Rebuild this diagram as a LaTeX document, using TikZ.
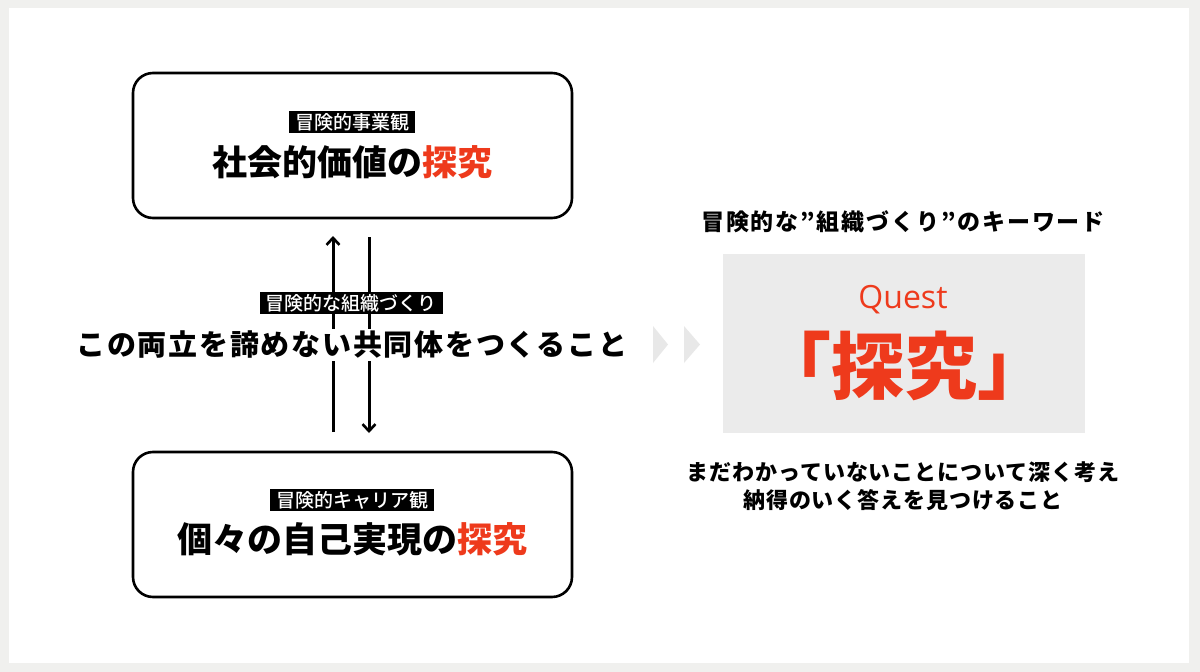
\documentclass[tikz,border=0pt]{standalone}
\usepackage{fontspec}
\newfontfamily\jp{Noto Sans CJK JP}
\newfontfamily\jpk{Noto Sans CJK JP Black}
\newfontfamily\jpm{Noto Sans CJK JP Medium}
\newfontfamily\qfont{Open Sans}
\usetikzlibrary{arrows.meta}
\definecolor{qred}{HTML}{EE3A1C}
\definecolor{bggray}{HTML}{F0F0EE}
\definecolor{boxgray}{HTML}{EBEBEB}
\definecolor{chev}{HTML}{E8E8E8}
\tikzset{
  rbox/.style={draw=black, line width=2.6pt, rounded corners=20pt, fill=white},
  lbl/.style={fill=black, text=white, inner xsep=6pt, inner ysep=2pt, font=\jpm\fontsize{19}{19}\selectfont},
  bigtxt/.style={inner sep=0pt, font=\jpk\fontsize{35}{35}\selectfont},
  midtxt/.style={fill=white, inner xsep=2pt, inner ysep=2pt, font=\jpk\fontsize{29}{29}\selectfont\addfontfeatures{LetterSpace=6}},
  rtxt/.style={inner sep=0pt, align=center, font=\jp\bfseries\fontsize{22}{28}\selectfont\addfontfeatures{LetterSpace=4}},
  arr/.style={line width=3pt, -{Straight Barb[length=7pt,width=13pt,line width=2.6pt]}},
}
\begin{document}
\begin{tikzpicture}[x=1pt,y=-1pt]
\fill[bggray] (0,0) rectangle (1200,672);
\fill[white] (9,8) rectangle (1189,663);
\useasboundingbox (0,0) rectangle (1200,672);

% boxes
\node[rbox, minimum width=439pt, minimum height=145pt] (top) at (352.5,145.5) {};
\node[rbox, minimum width=439pt, minimum height=145pt] (bot) at (352.5,524.5) {};

\node[lbl] (toplbl) at (352,122) {冒険的事業観};
\node[bigtxt] (toptxt) at (352,162) {社会的価値の\textcolor{qred}{探究}};
\node[lbl] (botlbl) at (352,500) {冒険的キャリア観};
\node[bigtxt] (bottxt) at (352,539) {個々の自己実現の\textcolor{qred}{探究}};

% arrows
\coordinate (upS) at (333,432);
\coordinate (upE) at (333,236);
\coordinate (dnS) at (369,237);
\coordinate (dnE) at (369,433);
\draw[arr] (upS) -- (upE);
\draw[arr] (dnS) -- (dnE);

\node[lbl] (midlbl) at (351,303) {冒険的な組織づくり};
\node[midtxt] (midtxt) at (352,345) {この両立を諦めない共同体をつくること};

% chevrons
\fill[chev] (653,326) -- (668,344.5) -- (653,363) -- cycle;
\fill[chev] (684,326) -- (700,344.5) -- (684,363) -- cycle;

% right side
\node[inner sep=0pt, font=\jp\bfseries\fontsize{23}{23}\selectfont\addfontfeatures{LetterSpace=8}] (hdr) at (903,222) {冒険的な”組織づくり”のキーワード};
\node[fill=boxgray, minimum width=362pt, minimum height=179pt, inner sep=0pt] (qbox) at (904,343.5) {};
\node[text=qred, inner sep=0pt, font=\qfont\fontsize{32}{32}\selectfont] (quest) at (903,300) {Quest};
\node[text=qred, inner sep=0pt, font=\jp\bfseries\fontsize{73}{73}\selectfont] (tanq) at (904,366) {「探究」};
\node[rtxt] (desc) at (903,486) {まだわかっていないことについて深く考え\\納得のいく答えを見つけること};
\end{tikzpicture}
\end{document}
